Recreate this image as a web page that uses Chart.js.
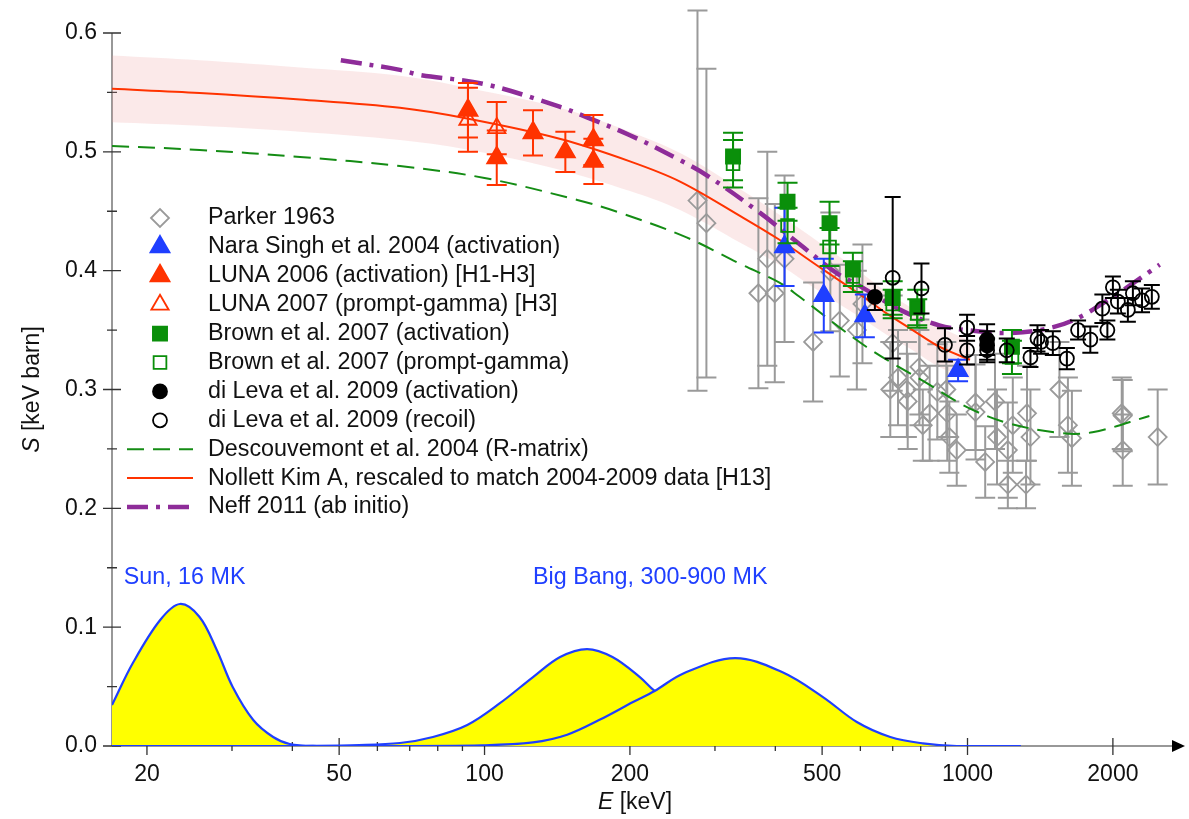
<!DOCTYPE html>
<html>
<head>
<meta charset="utf-8">
<title>3He(alpha,gamma)7Be S-factor</title>
<script src="https://cdn.jsdelivr.net/npm/chart.js@4.4.0/dist/chart.umd.min.js"></script>
<style>
  html, body { margin: 0; padding: 0; background: #fff; }
  #wrap { width: 1189px; height: 819px; }
</style>
</head>
<body>
<div id="wrap"><canvas id="myChart" width="1189" height="819"></canvas></div>
<script>
// ---- measured data: E in keV, S in keV barn ----
const parkerE = [276, 288, 369, 385, 399, 418, 479, 520, 544, 590, 606, 692, 700, 718, 749, 752, 795, 795, 808, 835, 866, 904, 908, 917, 950, 1039, 1039, 1088, 1140, 1151, 1212, 1212, 1241, 1322, 1328, 1350, 1550, 1614, 1645, 2086, 2096, 2096, 2476];
const parkerS = [0.459, 0.440, 0.381, 0.410, 0.381, 0.410, 0.340, 0.399, 0.358, 0.350, 0.372, 0.300, 0.339, 0.310, 0.300, 0.290, 0.319, 0.310, 0.270, 0.280, 0.298, 0.300, 0.280, 0.260, 0.249, 0.289, 0.281, 0.239, 0.290, 0.260, 0.249, 0.220, 0.270, 0.220, 0.280, 0.260, 0.300, 0.270, 0.259, 0.280, 0.278, 0.249, 0.260];
const parkerErr = [0.16, 0.13, 0.08, 0.09, 0.075, 0.07, 0.05, 0.05, 0.047, 0.05, 0.05, 0.04, 0.04, 0.04, 0.04, 0.04, 0.04, 0.04, 0.03, 0.04, 0.04, 0.04, 0.04, 0.03, 0.03, 0.04, 0.04, 0.03, 0.04, 0.04, 0.04, 0.02, 0.04, 0.02, 0.04, 0.04, 0.04, 0.04, 0.04, 0.03, 0.03, 0.03, 0.04];

const naraE = [418, 504, 613, 956];
const naraS = [0.420, 0.379, 0.362, 0.316];
const naraErr = [0.033, 0.031, 0.018, 0.009];

const lunaActE = [92.4, 106, 126, 147, 168, 168];
const lunaActS = [0.535, 0.495, 0.516, 0.500, 0.510, 0.492];
const lunaActErr = [0.023, 0.023, 0.019, 0.017, 0.021, 0.019];

const lunaPgE = [92.4, 106];
const lunaPgS = [0.527, 0.520];
const lunaPgErr = [0.027, 0.022];

const brownE = [327, 424, 518, 579, 700, 787, 1236];
const brownActS = [0.496, 0.458, 0.440, 0.401, 0.377, 0.369, 0.336];
const brownActErr = [0.020, 0.016, 0.018, 0.014, 0.014, 0.015, 0.014];
const brownPgS = [0.490, 0.438, 0.420, 0.395, 0.372, 0.364, 0.327];
const brownPgErr = [0.020, 0.015, 0.016, 0.013, 0.012, 0.012, 0.014];

const levaActE = [643, 1098, 1098];
const levaActS = [0.378, 0.342, 0.337];
const levaActErr = [0.011, 0.013, 0.012];

const levaRecE = [700, 803, 898, 998, 998, 1098, 1206, 1350, 1396, 1420, 1502, 1606, 1694, 1796, 1902, 1948, 2000, 2048, 2148, 2200, 2298, 2408];
const levaRecS = [0.394, 0.385, 0.3375, 0.352, 0.333, 0.333, 0.333, 0.327, 0.343, 0.340, 0.339, 0.326, 0.350, 0.342, 0.368, 0.350, 0.386, 0.374, 0.367, 0.381, 0.375, 0.378];
const levaRecErr = [0.068, 0.021, 0.014, 0.011, 0.012, 0.010, 0.010, 0.008, 0.011, 0.010, 0.010, 0.009, 0.008, 0.011, 0.012, 0.008, 0.009, 0.010, 0.010, 0.010, 0.010, 0.010];

// ---- theory curves ----
const descE = [16.93, 25.7, 41.5, 66.8, 100, 155.6, 190, 262, 337, 408, 449, 617, 822, 1000, 1206, 1550, 1814, 2380];
const descS = [0.505, 0.5016, 0.4957, 0.488, 0.478, 0.4595, 0.449, 0.428, 0.406, 0.390, 0.378, 0.336, 0.3055, 0.285, 0.272, 0.2634, 0.264, 0.2777];

const nollettE = [16.93, 25.7, 41.5, 66.8, 92, 143, 200, 254, 340, 408, 500, 599, 680, 770, 874, 1012];
const nollettS = [0.553, 0.5495, 0.544, 0.537, 0.528, 0.511, 0.492, 0.475, 0.4455, 0.426, 0.4015, 0.380, 0.364, 0.350, 0.336, 0.325];
const nollettHi = [0.581, 0.577, 0.571, 0.564, 0.554, 0.537, 0.517, 0.499, 0.468, 0.447, 0.422, 0.399, 0.382, 0.368, 0.353, 0.341];
const nollettLo = [0.525, 0.522, 0.517, 0.510, 0.502, 0.485, 0.467, 0.451, 0.423, 0.405, 0.381, 0.361, 0.346, 0.333, 0.319, 0.309];

const neffE = [50.4, 66.8, 73.4, 100, 143, 163, 200, 254, 288, 372, 450, 536, 599, 726, 874, 1050, 1206, 1410, 1650, 2000, 2500];
const neffS = [0.577, 0.569, 0.5647, 0.557, 0.538, 0.529, 0.514, 0.493, 0.4805, 0.4486, 0.422, 0.398, 0.387, 0.367, 0.354, 0.349, 0.3475, 0.350, 0.358, 0.378, 0.405];

// ---- Gamow windows ----
const sunE = [16.93, 18.7, 21.3, 23.4, 25.7, 27.9, 30.1, 33.2, 36.5, 39.5, 44.9, 60];
const sunW = [0.0345, 0.0698, 0.106, 0.1195, 0.1086, 0.0808, 0.0497, 0.0219, 0.0076, 0.0017, 0, 0];
const bbLowE = [40, 55, 66.8, 78.2, 92.1, 107.6, 126, 143.4, 163, 184, 209.7, 225, 258, 330, 414, 520];
const bbLowW = [0, 0.0008, 0.0025, 0.0076, 0.0177, 0.036, 0.058, 0.0749, 0.0816, 0.0749, 0.058, 0.0463, 0.030, 0.010, 0.002, 0];
const bbHighE = [16.93, 60, 99, 126, 148.3, 173, 203, 225, 258, 330, 414, 502, 590, 692, 808, 950, 1290];
const bbHighW = [0, 0, 0.0006, 0.0030, 0.0095, 0.022, 0.037, 0.0463, 0.0610, 0.074, 0.062, 0.0412, 0.0202, 0.0076, 0.0022, 0, 0];

// ---- axes ----
const xMajor = [20, 50, 100, 200, 500, 1000, 2000];
const xMinor = [30, 40, 60, 70, 80, 90, 300, 400, 600, 700, 800, 900];
const yMajor = [0, 0.1, 0.2, 0.3, 0.4, 0.5, 0.6];
const yMajorLabels = ['0.0', '0.1', '0.2', '0.3', '0.4', '0.5', '0.6'];
const yMinor = [0.05, 0.15, 0.25, 0.35, 0.45, 0.55];

const notes = ['Sun, 16 MK', 'Big Bang, 300-900 MK'];
const notesE = [17.9, 126];
const notesS = [0.1414, 0.1414];

const legendOrder = [
  'Parker 1963',
  'Nara Singh et al. 2004 (activation)',
  'LUNA 2006 (activation) [H1-H3]',
  'LUNA 2007 (prompt-gamma) [H3]',
  'Brown et al. 2007 (activation)',
  'Brown et al. 2007 (prompt-gamma)',
  'di Leva et al. 2009 (activation)',
  'di Leva et al. 2009 (recoil)',
  'Descouvemont et al. 2004 (R-matrix)',
  'Nollett Kim A, rescaled to match 2004-2009 data [H13]',
  'Neff 2011 (ab initio)'
];

const FONT = '"Liberation Sans", Arial, Helvetica, sans-serif';
const RED = '#ff3300', BLUE = '#1f3fff', GREEN = '#0a8f0a', GRAY = '#9a9a9a', PURPLE = '#8e2c99';
const NONE = 'rgba(0,0,0,0)';

const pts = (xs, ys) => xs.map((v, i) => ({ x: v, y: ys[i] }));

function markers(label, xs, ys, errs, style, r, fill, stroke, order, cap) {
  return {
    label: label, data: pts(xs, ys), errors: errs, capHalf: cap || 9,
    showLine: false, pointStyle: style, pointRadius: r, pointHoverRadius: r,
    backgroundColor: fill, borderColor: stroke, pointBorderWidth: 1.8,
    order: order, clip: false
  };
}

function curve(label, xs, ys, color, width, dash, order) {
  return {
    label: label, data: pts(xs, ys), showLine: true, borderColor: color,
    borderWidth: width, borderDash: dash, borderCapStyle: 'butt',
    pointRadius: 0, fill: false, tension: 0.35, order: order
  };
}

function gamow(xs, ys, order) {
  return {
    label: '', data: pts(xs, ys), showLine: true, borderColor: BLUE, borderWidth: 2.2,
    backgroundColor: '#ffff00', fill: 'origin', pointRadius: 0,
    tension: 0.35, order: order
  };
}

const datasets = [
  markers(legendOrder[7], levaRecE, levaRecS, levaRecErr, 'circle', 7, NONE, '#000', 0, 8),
  markers(legendOrder[6], levaActE, levaActS, levaActErr, 'circle', 7, '#000', '#000', 1, 8),
  markers(legendOrder[4], brownE, brownActS, brownActErr, 'rect', 10, GREEN, GREEN, 2, 10),
  markers(legendOrder[5], brownE, brownPgS, brownPgErr, 'rect', 9, NONE, GREEN, 3, 10),
  markers(legendOrder[1], naraE, naraS, naraErr, 'triangle', 11, BLUE, BLUE, 4, 10),
  markers(legendOrder[2], lunaActE, lunaActS, lunaActErr, 'triangle', 11, RED, RED, 5, 10),
  markers(legendOrder[3], lunaPgE, lunaPgS, lunaPgErr, 'triangle', 10, NONE, RED, 6, 10),
  curve(legendOrder[10], neffE, neffS, PURPLE, 4.5, [21, 8, 4, 8], 7),
  curve(legendOrder[9], nollettE, nollettS, RED, 2, [], 8),
  curve(legendOrder[8], descE, descS, '#148c14', 2, [17, 9], 9),
  markers(legendOrder[0], parkerE, parkerS, parkerErr, 'rectRot', 9, NONE, GRAY, 10, 10),
  // uncertainty band of the rescaled Nollett curve
  {
    label: 'band', data: pts(nollettE, nollettHi), showLine: true, borderWidth: 0,
    borderColor: NONE, backgroundColor: 'rgba(235,150,150,0.21)', fill: '+1',
    pointRadius: 0, tension: 0.35, order: 11
  },
  {
    label: 'band-lo', data: pts(nollettE, nollettLo), showLine: true, borderWidth: 0,
    borderColor: NONE, pointRadius: 0, fill: false, tension: 0.35, order: 12
  },
  gamow(bbHighE, bbHighW, 13),
  gamow(bbLowE, bbLowW, 14),
  gamow(sunE, sunW, 15)
];

// error bars go under the markers of each dataset
const errorBars = {
  id: 'errorBars',
  beforeDatasetDraw(chart, args) {
    const ds = chart.data.datasets[args.index];
    if (!ds.errors) return;
    const ctx = chart.ctx, ys = chart.scales.y;
    ctx.save();
    ctx.strokeStyle = ds.borderColor;
    ctx.lineWidth = 2;
    args.meta.data.forEach((p, i) => {
      const v = ds.data[i].y, e = ds.errors[i], w = ds.capHalf;
      const top = ys.getPixelForValue(v + e), bot = ys.getPixelForValue(v - e);
      ctx.beginPath();
      ctx.moveTo(p.x, top); ctx.lineTo(p.x, bot);
      ctx.moveTo(p.x - w, top); ctx.lineTo(p.x + w, top);
      ctx.moveTo(p.x - w, bot); ctx.lineTo(p.x + w, bot);
      ctx.stroke();
    });
    ctx.restore();
  }
};

// hand-drawn axes: ticks cross the axis line, arrow on E
const axes = {
  id: 'axes',
  beforeDatasetsDraw(chart) {
    const { ctx, chartArea: a, scales: { x, y } } = chart;
    const y0 = y.getPixelForValue(0);
    ctx.save();
    ctx.strokeStyle = '#777';
    ctx.lineWidth = 1.5;
    ctx.beginPath();
    ctx.moveTo(a.left, y.getPixelForValue(0.6)); ctx.lineTo(a.left, y0);
    ctx.moveTo(a.left, y0); ctx.lineTo(a.right, y0);
    ctx.stroke();
    ctx.fillStyle = '#000';
    ctx.beginPath();
    ctx.moveTo(a.right, y0 - 6); ctx.lineTo(a.right + 13, y0); ctx.lineTo(a.right, y0 + 6);
    ctx.closePath(); ctx.fill();

    ctx.strokeStyle = '#333';
    ctx.lineWidth = 1.3;
    ctx.beginPath();
    xMajor.forEach(v => { const px = x.getPixelForValue(v); ctx.moveTo(px, y0 - 8); ctx.lineTo(px, y0 + 9); });
    xMinor.forEach(v => { const px = x.getPixelForValue(v); ctx.moveTo(px, y0 - 4); ctx.lineTo(px, y0 + 5); });
    yMajor.forEach(v => { const py = y.getPixelForValue(v); ctx.moveTo(a.left - 9, py); ctx.lineTo(a.left + 9, py); });
    yMinor.forEach(v => { const py = y.getPixelForValue(v); ctx.moveTo(a.left - 5, py); ctx.lineTo(a.left + 5, py); });
    ctx.stroke();

    ctx.fillStyle = '#111';
    ctx.font = '23px ' + FONT;
    ctx.textBaseline = 'middle';
    ctx.textAlign = 'center';
    xMajor.forEach(v => ctx.fillText(String(v), x.getPixelForValue(v), y0 + 29));
    ctx.textAlign = 'right';
    yMajor.forEach((v, i) => ctx.fillText(yMajorLabels[i], a.left - 15, y.getPixelForValue(v)));

    // axis titles with italic symbols
    const title = (sym, rest, cx, cy, rot) => {
      ctx.save();
      ctx.translate(cx, cy);
      ctx.rotate(rot);
      ctx.textAlign = 'left';
      ctx.font = 'italic 23px ' + FONT;
      const w1 = ctx.measureText(sym).width;
      ctx.font = '23px ' + FONT;
      const w2 = ctx.measureText(rest).width;
      const x0 = -(w1 + w2) / 2;
      ctx.font = 'italic 23px ' + FONT;
      ctx.fillText(sym, x0, 0);
      ctx.font = '23px ' + FONT;
      ctx.fillText(rest, x0 + w1, 0);
      ctx.restore();
    };
    title('E', ' [keV]', (a.left + a.right) / 2 - 7, y0 + 57, 0);
    title('S', ' [keV barn]', 33, (a.top + a.bottom) / 2, -Math.PI / 2);
    ctx.restore();
  }
};

function drawMarker(ctx, style, r, px, py) {
  if (Chart.helpers && Chart.helpers.drawPoint) {
    Chart.helpers.drawPoint(ctx, { pointStyle: style, radius: r, rotation: 0, borderWidth: ctx.lineWidth }, px, py);
    return;
  }
  ctx.beginPath();
  ctx.arc(px, py, r, 0, Math.PI * 2);
  ctx.fill(); ctx.stroke();
}

const legendAndNotes = {
  id: 'legendAndNotes',
  afterDraw(chart) {
    const { ctx, scales: { x, y } } = chart;
    ctx.save();
    ctx.font = '23.3px ' + FONT;
    ctx.textBaseline = 'middle';
    ctx.textAlign = 'left';
    legendOrder.forEach((label, row) => {
      const ds = chart.data.datasets.find(d => d.label === label);
      const ly = 218 + row * 28.9;
      if (ds.showLine) {
        ctx.save();
        ctx.strokeStyle = ds.borderColor;
        ctx.lineWidth = ds.borderWidth;
        ctx.lineCap = 'butt';
        ctx.setLineDash(ds.borderDash || []);
        ctx.beginPath(); ctx.moveTo(127, ly); ctx.lineTo(193, ly); ctx.stroke();
        ctx.restore();
      } else {
        ctx.save();
        ctx.fillStyle = ds.backgroundColor;
        ctx.strokeStyle = ds.borderColor;
        ctx.lineWidth = 1.8;
        drawMarker(ctx, ds.pointStyle, ds.pointRadius, 160, ly);
        ctx.restore();
      }
      ctx.fillStyle = '#111';
      ctx.fillText(label, 208, ly);
    });
    ctx.fillStyle = BLUE;
    notes.forEach((t, i) => ctx.fillText(t, x.getPixelForValue(notesE[i]), y.getPixelForValue(notesS[i])));
    ctx.restore();
  }
};

new Chart(document.getElementById('myChart').getContext('2d'), {
  type: 'line',
  data: { datasets: datasets },
  options: {
    responsive: false,
    animation: false,
    devicePixelRatio: 1,
    events: [],
    layout: { padding: { left: 112, top: 33, right: 17, bottom: 73 } },
    plugins: { legend: { display: false }, tooltip: { enabled: false } },
    scales: {
      x: { type: 'logarithmic', min: 16.93, max: 2651, display: false },
      y: { type: 'linear', min: 0, max: 0.6, display: false }
    }
  },
  plugins: [axes, errorBars, legendAndNotes]
});
</script>
</body>
</html>
